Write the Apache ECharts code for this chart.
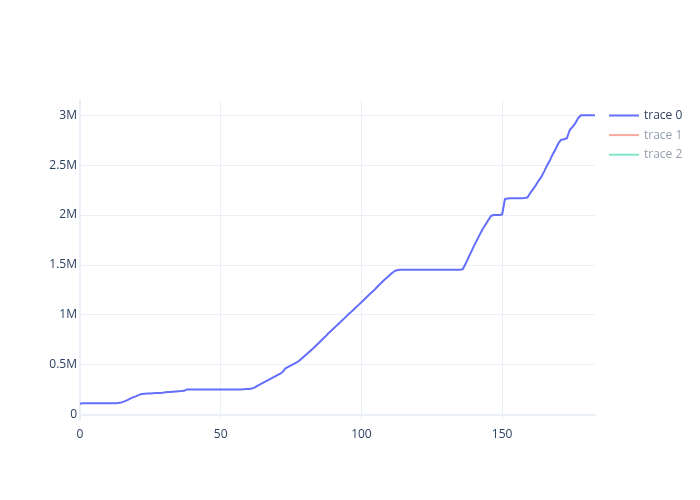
<!DOCTYPE html>
<html>
<head>
<meta charset="utf-8">
<script src="https://cdn.jsdelivr.net/npm/echarts@6/dist/echarts.min.js"></script>
<style>html,body{margin:0;padding:0;background:#fff;}#chart{width:700px;height:500px;}</style>
</head>
<body>
<div id="chart"></div>
<script>
const seriesNames = ['trace 0', 'trace 1', 'trace 2'];
const trace0 = [
  105000, 110000, 112000, 112000, 112000, 112000, 112000, 112000, 112000, 112000,
  112000, 112000, 112000, 112000, 115000, 122000, 132000, 145000, 160000, 172000,
  183000, 195000, 205000, 207000, 208000, 209000, 211000, 213000, 214000, 215000,
  220000, 223000, 225000, 227000, 229000, 231000, 233000, 236000, 250000, 250000,
  250000, 250000, 250000, 250000, 250000, 250000, 250000, 250000, 250000, 250000,
  250000, 250000, 250000, 250000, 250000, 250000, 250000, 250000, 251000, 253000,
  255000, 258000, 268000, 285000, 300000, 315000, 330000, 345000, 360000, 375000,
  390000, 405000, 425000, 460000, 475000, 490000, 505000, 520000, 540000, 565000,
  590000, 615000, 640000, 665000, 692000, 720000, 748000, 775000, 805000, 832000,
  858000, 885000, 912000, 938000, 965000, 993000, 1018000, 1045000, 1072000, 1098000,
  1125000, 1152000, 1180000, 1207000, 1233000, 1260000, 1290000, 1318000, 1345000, 1370000,
  1395000, 1420000, 1440000, 1448000, 1450000, 1450000, 1450000, 1450000, 1450000, 1450000,
  1450000, 1450000, 1450000, 1450000, 1450000, 1450000, 1450000, 1450000, 1450000, 1450000,
  1450000, 1450000, 1450000, 1450000, 1450000, 1450000, 1455000, 1510000, 1570000, 1630000,
  1690000, 1745000, 1800000, 1855000, 1900000, 1945000, 1990000, 2000000, 2000000, 2000000,
  2005000, 2160000, 2165000, 2167000, 2167000, 2168000, 2168000, 2168000, 2170000, 2175000,
  2220000, 2260000, 2300000, 2345000, 2385000, 2440000, 2500000, 2550000, 2610000, 2660000,
  2720000, 2755000, 2760000, 2770000, 2850000, 2885000, 2920000, 2970000, 3000000, 3000000,
  3000000, 3000000, 3000000, 3000000
];
const trace1 = [];
const trace2 = [];
const xTicks = [0, 50, 100, 150];
const yTicks = [0, 500000, 1000000, 1500000, 2000000, 2500000, 3000000];
const yTickLabels = ['0', '0.5M', '1M', '1.5M', '2M', '2.5M', '3M'];

const font = '"Open Sans", verdana, arial, sans-serif';
const gridColor = '#ebf0f8';
const textColor = '#2a3f5f';

const chart = echarts.init(document.getElementById('chart'), null, {renderer: 'canvas'});
chart.setOption({
  animation: false,
  backgroundColor: '#ffffff',
  grid: {left: 80, right: 105, top: 100, bottom: 80, containLabel: false},
  xAxis: {
    type: 'value',
    min: 0,
    max: trace0.length - 1,
    axisLine: {show: true, onZero: true, lineStyle: {color: gridColor, width: 2}},
    axisTick: {show: false, customValues: xTicks},
    axisLabel: {customValues: xTicks, color: textColor, fontSize: 12, fontFamily: font, margin: 9},
    splitLine: {show: true, lineStyle: {color: gridColor, width: 1}}
  },
  yAxis: {
    type: 'value',
    min: -57000,
    max: 3153500,
    axisLine: {show: true, onZero: true, lineStyle: {color: gridColor, width: 2}},
    axisTick: {show: false, customValues: yTicks},
    axisLabel: {
      customValues: yTicks,
      color: textColor, fontSize: 12, fontFamily: font, margin: 3,
      formatter: function (v) { const i = yTicks.indexOf(v); return i >= 0 ? yTickLabels[i] : ''; }
    },
    splitLine: {show: true, lineStyle: {color: gridColor, width: 1}}
  },
  legend: {
    orient: 'vertical',
    left: 609,
    top: 108.5,
    icon: 'rect',
    itemWidth: 30,
    itemHeight: 2,
    itemGap: 5.6,
    padding: 0,
    textStyle: {fontSize: 12, fontFamily: font, color: textColor, lineHeight: 14},
    data: [
      {name: seriesNames[0], textStyle: {color: textColor}, itemStyle: {color: '#636efa'}},
      {name: seriesNames[1], textStyle: {color: '#949faf'}, itemStyle: {color: '#f7aa9d'}},
      {name: seriesNames[2], textStyle: {color: '#949faf'}, itemStyle: {color: '#80e5ca'}}
    ]
  },
  series: [
    {
      name: seriesNames[0], type: 'line', showSymbol: false, symbol: 'none',
      data: trace0.map((v, i) => [i, v]),
      lineStyle: {color: '#636efa', width: 2, join: 'round'},
      itemStyle: {color: '#636efa'}
    },
    {
      name: seriesNames[1], type: 'line', symbol: 'none', data: trace1,
      lineStyle: {color: '#f7aa9d', width: 2}, itemStyle: {color: '#f7aa9d'}
    },
    {
      name: seriesNames[2], type: 'line', symbol: 'none', data: trace2,
      lineStyle: {color: '#80e5ca', width: 2}, itemStyle: {color: '#80e5ca'}
    }
  ]
});
</script>
</body>
</html>
